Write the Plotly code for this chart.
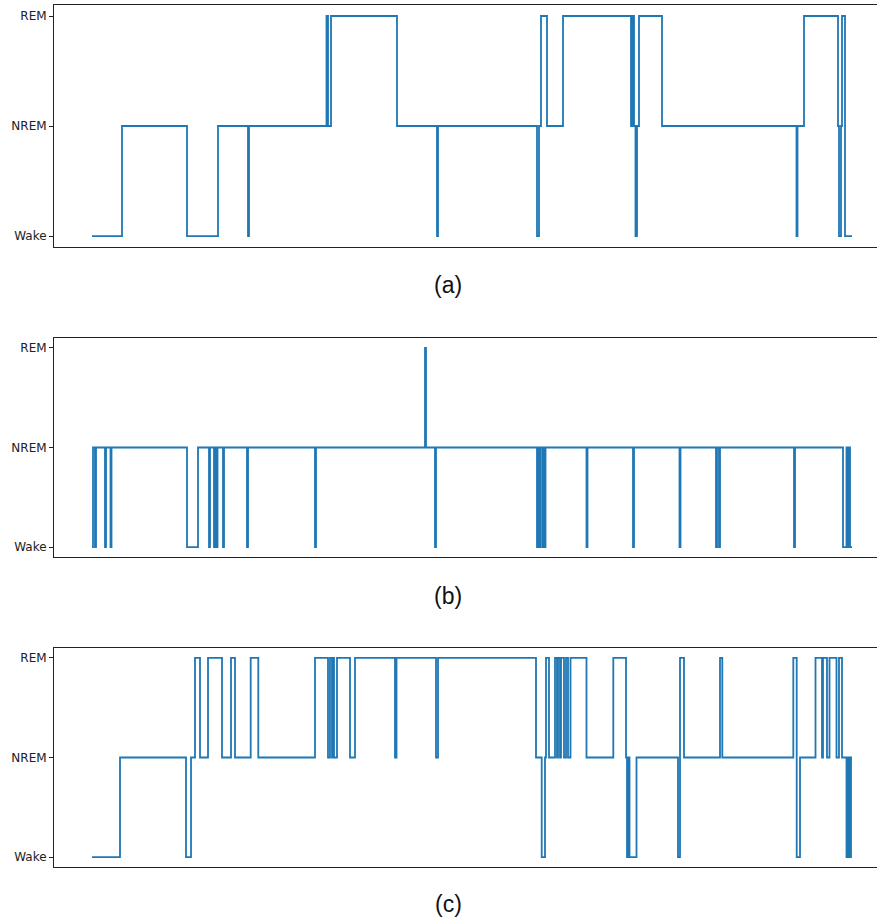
import plotly.graph_objects as go

# Stage codes: 0 = Wake, 1 = NREM, 2 = REM
stage_labels = ["Wake", "NREM", "REM"]
stage_ticks = [0, 1, 2]
W, N, R = 0, 1, 2
END_EPOCH = 760

# (a) hypnogram: epochs where the stage changes, and the new stage
a_epochs = [0, 30, 95, 126, 156, 157, 234.5, 236, 239, 305, 345, 346,
            445, 447, 449, 455, 471, 539, 540.5, 542, 543.5, 545, 547, 570,
            704.5, 705.5, 712, 746, 747, 749, 750, 753]
a_stages = [W, N, W, N, W, N, R, N, R, N, W, N,
            W, N, R, N, R, N, R, N, W, N, R, N,
            W, N, R, N, W, N, R, W]

# (b) hypnogram
b_epochs = [0, 1, 3, 4, 13, 14, 18.5, 19.5, 95, 106, 117, 118, 122, 123,
            124.5, 125.5, 131, 132, 155, 156, 223, 224, 333, 334, 343, 344,
            445, 446, 447.5, 448.5, 450.5, 451.5, 452.5, 453.5, 494.5, 495.5,
            541, 542, 587.5, 588.5, 624, 625, 627, 628, 702, 703,
            751, 754.5, 755.5, 757, 758]
b_stages = [W, N, W, N, W, N, W, N, W, N, W, N, W, N,
            W, N, W, N, W, N, W, N, R, N, W, N,
            W, N, W, N, W, N, W, N, W, N,
            W, N, W, N, W, N, W, N, W, N,
            W, N, W, N, W]

# (c) hypnogram
c_epochs = [0, 28, 94, 99, 103, 108, 116, 130, 139, 143, 158.7, 166.3,
            223, 236, 238, 240, 241, 242, 245, 258, 263, 303, 304.5, 344, 346,
            444, 449.7, 453, 454, 457, 463, 465, 466, 468, 469, 472, 474, 476,
            478.5, 494.5, 521.3, 534, 535, 536.5, 537.5, 544.5, 586, 588, 592,
            628, 630.3, 701.3, 704.7, 708, 723.5, 730, 731, 735, 737.5, 744.5,
            747, 750, 754.5, 756, 757.5, 759]
c_stages = [W, N, W, N, R, N, R, N, R, N, R, N,
            R, N, R, N, R, N, R, N, R, N, R, N, R,
            N, W, N, R, N, R, N, R, N, R, N, R, N,
            R, N, R, N, W, N, W, N, W, R, N,
            R, N, R, W, N, R, N, R, N, R, N,
            R, N, W, N, W, N]

captions = ["(a)", "(b)", "(c)"]

series = [(a_epochs, a_stages), (b_epochs, b_stages), (c_epochs, c_stages)]
y_domains = [[0.7309, 0.99455], [0.39325, 0.63181], [0.05556, 0.29412]]
caption_y = [1 - 285 / 918, 1 - 596 / 918, 1 - 904 / 918]

fig = go.Figure()
layout = dict(
    width=877, height=918,
    margin=dict(l=54, r=0, t=0, b=0),
    paper_bgcolor="white", plot_bgcolor="white",
    showlegend=False,
    annotations=[],
)

for i, ((ep, st), dom) in enumerate(zip(series, y_domains)):
    xs = list(ep) + [END_EPOCH]
    ys = list(st) + [st[-1]]
    suffix = "" if i == 0 else str(i + 1)
    fig.add_trace(go.Scatter(
        x=xs, y=ys, mode="lines", line_shape="hv",
        line=dict(color="#1f77b4", width=1.8),
        xaxis="x" + suffix, yaxis="y" + suffix,
    ))
    layout["xaxis" + suffix] = dict(
        domain=[0, 1], range=[-38, 785], anchor="y" + suffix,
        showticklabels=False, ticks="", showgrid=False, zeroline=False,
        showline=True, linecolor="#222222", linewidth=1, mirror=True,
    )
    layout["yaxis" + suffix] = dict(
        domain=dom, range=[-0.1, 2.1], anchor="x" + suffix,
        tickvals=stage_ticks, ticktext=stage_labels,
        ticks="outside", ticklen=4, tickwidth=1, tickcolor="#222222",
        tickfont=dict(family="DejaVu Sans", size=12, color="#222222"),
        showgrid=False, zeroline=False,
        showline=True, linecolor="#222222", linewidth=1, mirror=False,
    )
    layout["annotations"].append(dict(
        text=captions[i], xref="paper", yref="paper",
        x=(448 - 54) / 823, y=caption_y[i], xanchor="center", yanchor="middle",
        showarrow=False,
        font=dict(family="Liberation Sans, Arial", size=23, color="#111111"),
    ))

fig.update_layout(**layout)
fig.write_html(
    "out.html",
    config={"displayModeBar": False},
    post_script="document.body.style.margin='0';document.body.style.overflow='hidden';",
)
